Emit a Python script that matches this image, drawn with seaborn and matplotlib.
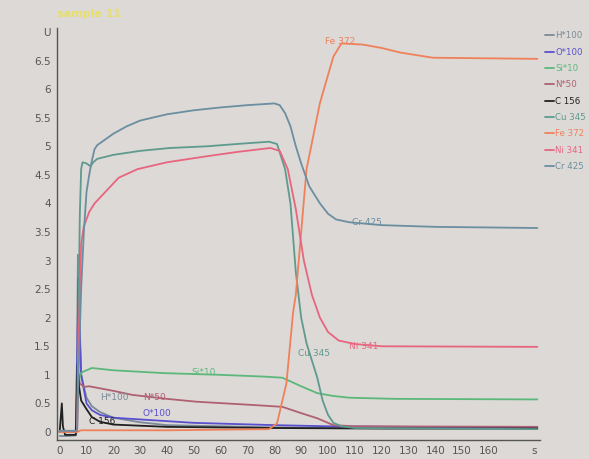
import numpy as np
import pandas as pd
import seaborn as sns
import matplotlib.pyplot as plt

# depth profile (time in s, signal in U)
species = ["H*100", "O*100", "Si*10", "N*50", "C 156", "Cu 345", "Fe 372", "Ni 341", "Cr 425"]
colors = ["#7a8a96", "#5a4fcf", "#5cb87a", "#b06070", "#202020", "#5f9a8e", "#f0805a", "#e8657f", "#6b8ea0"]

t_h = [0, 3, 6, 6.5, 6.8, 7.2, 8, 10, 12, 15, 20, 30, 40, 60, 80, 100, 130, 178]
u_h = [-0.07, -0.07, -0.06, 1.5, 3.1, 2.0, 1.0, 0.6, 0.45, 0.35, 0.25, 0.17, 0.12, 0.1, 0.08, 0.07, 0.07, 0.07]

t_o = [0, 6, 6.6, 7, 7.5, 8, 10, 12, 15, 20, 30, 50, 80, 100, 130, 178]
u_o = [0.0, 0.0, 1.5, 2.7, 1.8, 1.0, 0.5, 0.38, 0.3, 0.25, 0.22, 0.16, 0.12, 0.1, 0.09, 0.08]

t_si = [0, 6, 6.8, 7.5, 8.5, 10, 12, 20, 39, 60, 76, 83, 90, 96, 102, 108, 125, 178]
u_si = [0.0, 0.0, 0.6, 1.0, 1.05, 1.08, 1.12, 1.08, 1.03, 1.0, 0.97, 0.95, 0.8, 0.68, 0.63, 0.6, 0.58, 0.57]

t_n = [0, 6, 6.8, 7.5, 9, 11, 20, 27, 40, 51, 73, 83, 90, 96, 102, 110, 178]
u_n = [0.0, 0.0, 1.0, 0.85, 0.79, 0.8, 0.72, 0.65, 0.58, 0.53, 0.47, 0.44, 0.33, 0.24, 0.12, 0.1, 0.09]

t_c = [0, 0.8, 1.2, 2, 6, 6.7, 7.2, 8, 10, 12, 15, 20, 40, 80, 120, 178]
u_c = [0.0, 0.5, 0.1, -0.05, -0.05, 1.2, 0.8, 0.55, 0.4, 0.26, 0.18, 0.13, 0.09, 0.07, 0.06, 0.06]

t_cu = [0, 6.5, 7, 7.5, 8, 8.5, 10, 11.5, 12.5, 14, 20, 30, 41, 55, 66, 78, 81, 84, 86, 88, 90, 92, 94, 96, 98, 100, 102, 105, 110, 178]
u_cu = [0.02, 0.02, 2.0, 3.8, 4.6, 4.72, 4.7, 4.65, 4.72, 4.78, 4.85, 4.92, 4.97, 5.0, 5.04, 5.08, 5.04, 4.6, 4.0, 2.8, 2.0, 1.55, 1.25, 0.95, 0.55, 0.3, 0.16, 0.1, 0.07, 0.05]

t_fe = [0, 6.5, 8, 40, 78, 81, 84.5, 87, 88, 92, 97, 102, 105, 113, 120, 127, 139, 178]
u_fe = [0.0, 0.0, 0.03, 0.03, 0.05, 0.15, 0.85, 2.1, 2.4, 4.6, 5.76, 6.57, 6.8, 6.78, 6.72, 6.64, 6.55, 6.53]

t_ni = [0, 6.5, 7, 8, 9, 11, 13, 17, 22, 29, 40, 54, 66, 78.5, 82, 85, 88, 91, 94, 97, 100, 104, 110, 120, 178]
u_ni = [0.02, 0.02, 1.5, 3.3, 3.6, 3.85, 4.0, 4.2, 4.45, 4.6, 4.72, 4.82, 4.9, 4.97, 4.92, 4.6, 3.9, 3.0, 2.4, 2.0, 1.75, 1.6, 1.54, 1.5, 1.49]

t_cr = [0, 6.5, 7, 8, 9, 10, 11, 12, 13, 14, 17, 20, 25, 30, 40, 50, 60, 70, 80, 82, 84, 86, 88, 90, 93, 97, 100, 103, 108, 120, 140, 178]
u_cr = [0.02, 0.02, 1.0, 2.5, 3.5, 4.2, 4.5, 4.75, 4.95, 5.02, 5.12, 5.22, 5.35, 5.45, 5.56, 5.63, 5.68, 5.72, 5.75, 5.72, 5.58, 5.35, 5.0, 4.7, 4.3, 4.0, 3.82, 3.72, 3.67, 3.62, 3.59, 3.57]

# curve labels: position (s, U)
label_pos = {"H*100": (15, 0.6), "O*100": (31, 0.33), "Si*10": (49, 1.04), "N*50": (31, 0.6),
             "C 156": (11, 0.18), "Cu 345": (89, 1.38), "Fe 372": (99, 6.83), "Ni 341": (108, 1.5),
             "Cr 425": (109, 3.66)}

series_t = [t_h, t_o, t_si, t_n, t_c, t_cu, t_fe, t_ni, t_cr]
series_u = [u_h, u_o, u_si, u_n, u_c, u_cu, u_fe, u_ni, u_cr]

frames = []
for name, t, u in zip(species, series_t, series_u):
    frames.append(pd.DataFrame({"t": t, "U": u, "element": name}))
df = pd.concat(frames, ignore_index=True)

bg = "#dcd9d6"
sns.set_style("white")
plt.rcParams['font.family'] = ['DejaVu Sans']

fig = plt.figure(figsize=(5.89, 4.59), dpi=100, facecolor=bg)
ax = fig.add_axes([57 / 589, 19 / 459, 483 / 589, 412 / 459])
ax.set_facecolor(bg)

palette = dict(zip(species, colors))
sns.lineplot(data=df, x="t", y="U", hue="element", palette=palette, estimator=None,
             sort=False, linewidth=1.3, legend=False, ax=ax)

for name in species:
    x, y = label_pos[name]
    ax.text(x, y, name, color=palette[name], fontsize=6.5, va="center")

ax.set_xlim(-1, 179)
ax.set_ylim(-0.14, 7.07)

xt = list(range(0, 170, 10)) + [177]
ax.set_xticks(xt)
ax.set_xticklabels([str(v) for v in range(0, 170, 10)] + ["s"])
yt = [i * 0.5 for i in range(14)] + [7.0]
ax.set_yticks(yt)
ax.set_yticklabels([f"{v:g}" for v in yt[:-1]] + ["U"])
ax.tick_params(axis="both", direction="inout", length=5, width=0.8, colors="#555555",
               labelsize=7.5, pad=2)
ax.set_xlabel("")
ax.set_ylabel("")

for side in ["top", "right"]:
    ax.spines[side].set_visible(False)
for side in ["left", "bottom"]:
    ax.spines[side].set_color("#555555")
    ax.spines[side].set_linewidth(1.0)

handles = [plt.Line2D([], [], color=c, lw=1.3) for c in colors]
leg = ax.legend(handles, species, loc="upper left", bbox_to_anchor=(1.003, 1.0),
                frameon=False, fontsize=6.2, handlelength=1.0, handletextpad=0.2,
                labelspacing=0.85, borderaxespad=0)
for txt, c in zip(leg.get_texts(), colors):
    txt.set_color(c)

fig.text(57 / 589, 1 - 14 / 459, "sample 11", color="#e8df6a", fontsize=8,
         fontweight="bold", va="center")

fig.savefig("out.png", dpi=100, facecolor=bg)
